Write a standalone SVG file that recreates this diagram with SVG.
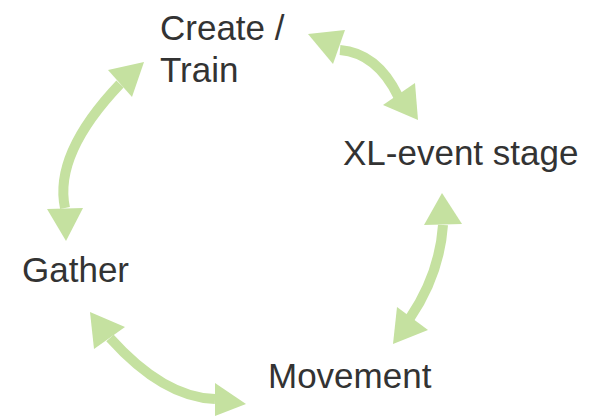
<svg xmlns="http://www.w3.org/2000/svg" width="592" height="418" viewBox="0 0 592 418">
<style>
.lbl{font-family:"Liberation Sans",Arial,sans-serif;font-size:35px;fill:#333333;}
.shaft{fill:none;stroke:#c5e1a0;stroke-width:10;}
.head{fill:#c5e1a0;}
</style>
<rect width="592" height="418" fill="#ffffff"/>
<g id="connectors">
<g id="c1"><path class="shaft" d="M340,50 Q377,53 398,96"/><polygon class="head" points="308,34 345,30 333,64"/><polygon class="head" points="418,120 383,105 415,83"/></g>
<g id="c2"><path class="shaft" d="M120,84 Q53.5,154 65,208"/><polygon class="head" points="144,62 108,70 132,97"/><polygon class="head" points="66,241 47,209 83,208"/></g>
<g id="c3"><path class="shaft" d="M110,338 Q163.5,397.5 215,399"/><polygon class="head" points="90,312 125,327 94,349"/><polygon class="head" points="246,404 215,383 215,416"/></g>
<g id="c4"><path class="shaft" d="M443,225 Q439.5,274.5 410,318"/><polygon class="head" points="442,193 424,225 462,224"/><polygon class="head" points="393,344 397,307 428,330"/></g>
</g>
<g id="create"><text class="lbl" x="160" y="40">Create /</text><text class="lbl" x="160" y="82">Train</text></g>
<g id="xl"><text class="lbl" x="343" y="165">XL-event stage</text></g>
<g id="gather"><text class="lbl" x="22" y="282">Gather</text></g>
<g id="movement"><text class="lbl" x="268" y="388">Movement</text></g>
</svg>
